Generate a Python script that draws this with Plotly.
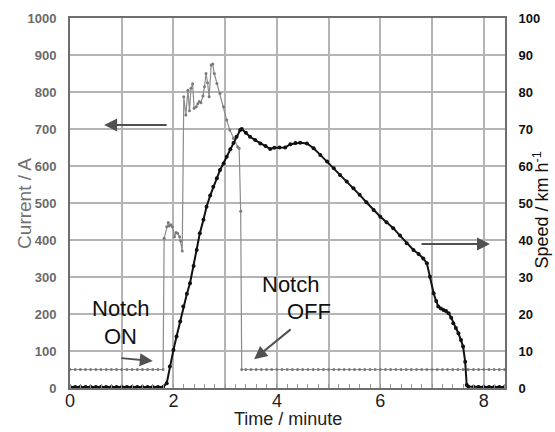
import plotly.graph_objects as go

# ---------------- data ----------------
current_t = [0.0, 0.1, 0.2, 0.3, 0.4, 0.5, 0.6, 0.7, 0.8, 0.9, 1.0, 1.1, 1.2, 1.3, 1.4, 1.5, 1.6, 1.7, 1.8,
             1.82, 1.87, 1.90, 1.92, 1.95, 1.98, 2.02, 2.05, 2.08, 2.12, 2.14, 2.17,
             2.20, 2.24, 2.28, 2.31, 2.34, 2.37, 2.40, 2.44, 2.47, 2.50, 2.53, 2.57, 2.60, 2.63, 2.66, 2.69,
             2.73, 2.76, 2.79, 2.84, 2.90, 2.97, 3.03, 3.09, 3.16, 3.24, 3.27, 3.30, 3.32,
             3.4, 3.5, 3.6, 3.7, 3.8, 3.9, 4.0, 4.1, 4.2, 4.3, 4.4, 4.5, 4.6, 4.7, 4.8, 4.9, 5.0,
             5.1, 5.2, 5.3, 5.4, 5.5, 5.6, 5.7, 5.8, 5.9, 6.0, 6.1, 6.2, 6.3, 6.4, 6.5, 6.6, 6.7,
             6.8, 6.9, 7.0, 7.1, 7.2, 7.3, 7.4, 7.5, 7.6, 7.7, 7.8, 7.9, 8.0, 8.1, 8.2, 8.3, 8.4]
current_a = [50, 50, 50, 50, 50, 50, 50, 50, 50, 50, 50, 50, 50, 50, 50, 50, 50, 50, 50,
             405, 436, 447, 438, 441, 436, 409, 420, 418, 409, 397, 370,
             787, 738, 805, 749, 810, 822, 756, 760, 768, 774, 771, 789, 814, 850, 825, 787,
             873, 876, 850, 823, 796, 760, 724, 697, 675, 652, 648, 478, 50,
             50, 50, 50, 50, 50, 50, 50, 50, 50, 50, 50, 50, 50, 50, 50, 50, 50,
             50, 50, 50, 50, 50, 50, 50, 50, 50, 50, 50, 50, 50, 50, 50, 50, 50,
             50, 50, 50, 50, 50, 50, 50, 50, 50, 50, 50, 50, 50, 50, 50, 50, 50]

speed_t = [0.0, 0.1, 0.2, 0.3, 0.4, 0.5, 0.6, 0.7, 0.8, 0.9, 1.0, 1.1, 1.2, 1.3, 1.4, 1.5, 1.6, 1.7, 1.8,
           1.87, 1.93, 2.00, 2.06, 2.13, 2.19, 2.26, 2.32, 2.39, 2.45, 2.51, 2.58, 2.64, 2.71, 2.77,
           2.84, 2.90, 2.97, 3.03, 3.10, 3.16, 3.22, 3.29, 3.32, 3.40, 3.48, 3.58, 3.68, 3.78, 3.87,
           3.95, 4.05, 4.16, 4.26, 4.36, 4.45, 4.58, 4.71, 4.84, 4.97, 5.10, 5.22, 5.35, 5.48, 5.60,
           5.73, 5.87, 6.00, 6.12, 6.25, 6.38, 6.51, 6.64, 6.74, 6.83, 6.90, 6.96, 7.03, 7.08, 7.12,
           7.17, 7.22, 7.27, 7.32, 7.37, 7.41, 7.46, 7.51, 7.56, 7.60, 7.64, 7.67, 7.70,
           7.8, 7.9, 8.0, 8.1, 8.2, 8.3, 8.4]
speed_kmh = [0.3, 0.3, 0.3, 0.3, 0.3, 0.3, 0.3, 0.3, 0.3, 0.3, 0.3, 0.3, 0.3, 0.3, 0.3, 0.3, 0.3, 0.3, 0.3,
             1.3, 5.8, 10.3, 13.9, 18.0, 22.0, 25.5, 28.3, 33.0, 37.3, 41.8, 45.5, 49.0, 52.0, 54.4,
             56.7, 58.9, 60.7, 62.5, 64.5, 66.2, 67.9, 69.7, 70.0, 69.0, 67.9, 67.0, 66.1, 65.4, 64.6,
             64.9, 65.0, 65.0, 65.9, 66.2, 66.3, 66.1, 64.8, 63.0, 61.2, 59.4, 57.6, 55.8, 54.0, 52.2,
             50.2, 48.1, 46.3, 44.8, 43.2, 41.2, 39.1, 37.3, 36.2, 35.0, 33.7, 30.1, 25.6, 23.5, 22.0,
             21.5, 21.1, 20.8, 20.2, 19.0, 17.5, 16.2, 14.8, 13.0, 11.2, 7.1, 0.8, 0.4,
             0.3, 0.3, 0.3, 0.3, 0.3, 0.3, 0.3]

x_tickvals = [0, 1, 2, 3, 4, 5, 6, 7, 8]
x_ticktext = ["0", " ", "2", " ", "4", " ", "6", " ", "8"]

FONT = "Arial, Liberation Sans, sans-serif"
GRID = "#b4b4b4"
AXIS = "#6e6e6e"
ARROW = "#505050"

fig = go.Figure()
fig.add_trace(go.Scatter(
    x=current_t, y=current_a, mode="lines+markers", name="Current",
    line=dict(color="#8c8c8c", width=1.2),
    marker=dict(color="#7a7a7a", size=3),
    cliponaxis=False, showlegend=False, yaxis="y"))
fig.add_trace(go.Scatter(
    x=speed_t, y=speed_kmh, mode="lines+markers", name="Speed",
    line=dict(color="#111111", width=2),
    marker=dict(color="#111111", size=4),
    cliponaxis=False, showlegend=False, yaxis="y2"))

fig.update_layout(
    width=555, height=432,
    margin=dict(l=70, r=50, t=18, b=44, autoexpand=False),
    paper_bgcolor="white", plot_bgcolor="white",
    font=dict(family=FONT, color="#222"),
    xaxis=dict(range=[0, 8.41], tickvals=x_tickvals, ticktext=x_ticktext, automargin=False,
               showgrid=True, gridcolor=GRID, gridwidth=1.5,
               showline=True, linecolor=AXIS, linewidth=2, mirror=True,
               ticks="", tickfont=dict(size=18, color="#222"), ticklabelstandoff=-5,
               zeroline=False,
               minor=dict(dtick=0.2, ticks="inside", ticklen=4, tickcolor="#999", showgrid=False)),
    yaxis=dict(range=[0, 1000], dtick=100, showgrid=True, gridcolor=GRID, gridwidth=1.5, automargin=False,
               showline=True, linecolor=AXIS, linewidth=2, mirror=True,
               ticks="outside", ticklen=9, tickcolor="rgba(0,0,0,0)",
               tickfont=dict(size=13, color="#6a6a6a", weight="bold"),
               zeroline=False),
    yaxis2=dict(range=[0, 100], dtick=10, overlaying="y", side="right", showgrid=False, automargin=False,
                showline=True, linecolor=AXIS, linewidth=2,
                ticks="outside", ticklen=9, tickcolor="rgba(0,0,0,0)",
                tickfont=dict(size=13, color="#111", weight="bold"),
                zeroline=False),
)

annotations = [
    # axis titles
    dict(text="Time / minute", xref="paper", yref="paper", x=0.5, y=-0.1135, xanchor="center", yanchor="bottom",
         showarrow=False, font=dict(size=18, color="#222"), borderpad=0),
    dict(text="Current / A", xref="paper", yref="paper", x=-0.106, y=0.5, xanchor="center", yanchor="middle",
         textangle=-90, showarrow=False, font=dict(size=19, color="#707070")),
    dict(text="Speed / km h<sup>-1</sup>", xref="paper", yref="paper", x=1.083, y=0.48, xanchor="center", yanchor="middle",
         textangle=-90, showarrow=False, font=dict(size=18, color="#111")),
    # notch labels
    dict(text="Notch", x=0.967, y=214, xref="x", yref="y", showarrow=False,
         font=dict(size=22, color="#111")),
    dict(text="ON", x=0.975, y=138, xref="x", yref="y", showarrow=False,
         font=dict(size=22, color="#111")),
    dict(text="Notch", x=4.27, y=281, xref="x", yref="y", showarrow=False,
         font=dict(size=22, color="#111")),
    dict(text="OFF", x=4.62, y=208, xref="x", yref="y", showarrow=False,
         font=dict(size=22, color="#111")),
    # arrows
    dict(x=0.66, y=711, xref="x", yref="y", ax=64, ay=0, axref="pixel", ayref="pixel", text="",
         showarrow=True, arrowhead=2, arrowsize=1.3, arrowwidth=2, arrowcolor=ARROW),
    dict(x=8.12, y=389, xref="x", yref="y", ax=-70, ay=0, text="",
         showarrow=True, arrowhead=2, arrowsize=1.3, arrowwidth=2, arrowcolor=ARROW),
    dict(x=1.60, y=73, xref="x", yref="y", ax=-33, ay=-3, text="",
         showarrow=True, arrowhead=2, arrowsize=1.3, arrowwidth=2, arrowcolor=ARROW),
    dict(x=3.56, y=78, xref="x", yref="y", ax=38, ay=-31, text="",
         showarrow=True, arrowhead=2, arrowsize=1.3, arrowwidth=2, arrowcolor=ARROW),
]
fig.update_layout(annotations=annotations)

fig.write_html("out.html")
